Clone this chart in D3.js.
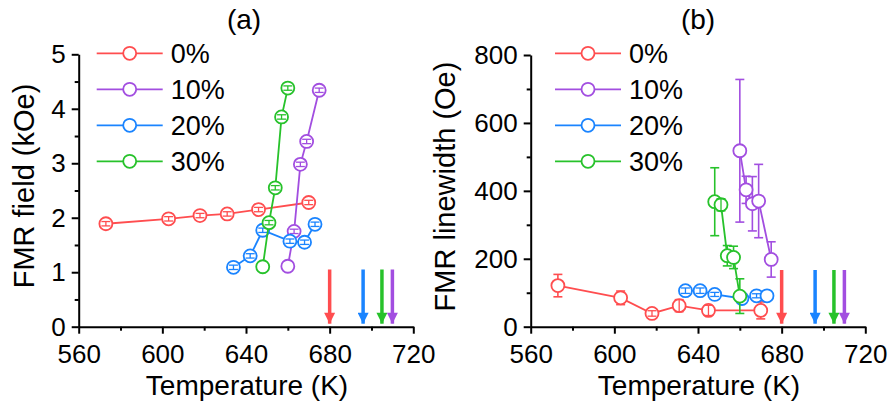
<!DOCTYPE html>
<html>
<head>
<meta charset="utf-8">
<script src="https://cdn.jsdelivr.net/npm/d3@7"></script>
<style>
  body { margin: 0; background: #fff; }
  svg text { font-family: "Liberation Sans", Arial, sans-serif; fill: #000; }
</style>
</head>
<body>
<div id="chart"></div>
<script>
// series labels and Curie temperatures (arrows)
var seriesNames = ["0%", "10%", "20%", "30%"];
var seriesColors = ["#ff4d4f", "#a24ee0", "#1a84ff", "#27c22b"];
var curieT = [680, 710, 696, 705];

// (a) FMR field (kOe)
var fieldT0 = [573, 603, 618, 631, 646, 670];
var fieldV0 = [1.89, 1.98, 2.04, 2.07, 2.15, 2.28];
var fieldE0 = [0.04, 0.04, 0.04, 0.04, 0.04, 0.04];
var fieldT10 = [660, 663, 666, 669, 675];
var fieldV10 = [1.11, 1.75, 2.98, 3.40, 4.34];
var fieldE10 = [0, 0.04, 0.04, 0.04, 0.04];
var fieldT20 = [634, 642, 648, 661, 668, 673];
var fieldV20 = [1.09, 1.30, 1.77, 1.57, 1.55, 1.88];
var fieldE20 = [0.04, 0.04, 0.04, 0.04, 0.04, 0.04];
var fieldT30 = [648, 651, 654, 657, 660];
var fieldV30 = [1.10, 1.91, 2.55, 3.85, 4.38];
var fieldE30 = [0, 0.04, 0.04, 0.04, 0.04];

// (b) FMR linewidth (Oe)
var lwT0 = [573, 603, 618, 631, 645, 670];
var lwV0 = [121, 85, 39, 62, 48, 48];
var lwE0 = [33, 20, 8, 18, 15, 25];
var lwT10 = [660, 663, 666, 669, 675];
var lwV10 = [518, 403, 362, 370, 198];
var lwE10 = [210, 40, 80, 108, 52];
var lwT20 = [634, 641, 648, 661, 668, 673];
var lwV20 = [106, 106, 95, 83, 91, 91];
var lwE20 = [8, 8, 6, 4, 6, 0];
var lwT30 = [648, 651, 654, 657, 660];
var lwV30 = [368, 359, 209, 204, 90];
var lwE30 = [100, 18, 30, 33, 51];

var xTicks = [560, 600, 640, 680, 720];
var xMinor = [580, 620, 660, 700];

function zipSeries(ts, vs, es) {
  return ts.map(function(t, i) { return {t: t, v: vs[i], e: es[i]}; });
}

var panels = [
  {
    title: "(a)", ylabel: "FMR field (kOe)",
    left: 78.7, right: 413.3, top: 54.3,
    yDomain: [0, 5], yTicks: [0, 1, 2, 3, 4, 5], yMinor: [0.5, 1.5, 2.5, 3.5, 4.5],
    arrowTop: 1.05, ylabelX: 34, ylabelY: 186, titleX: 244, legendX: 96.7,
    series: [zipSeries(fieldT0, fieldV0, fieldE0), zipSeries(fieldT10, fieldV10, fieldE10),
             zipSeries(fieldT20, fieldV20, fieldE20), zipSeries(fieldT30, fieldV30, fieldE30)]
  },
  {
    title: "(b)", ylabel: "FMR linewidth (Oe)",
    left: 530.7, right: 865.3, top: 55,
    yDomain: [0, 800], yTicks: [0, 200, 400, 600, 800], yMinor: [100, 300, 500, 700],
    arrowTop: 167, ylabelX: 455, ylabelY: 186.5, titleX: 698, legendX: 555,
    series: [zipSeries(lwT0, lwV0, lwE0), zipSeries(lwT10, lwV10, lwE10),
             zipSeries(lwT20, lwV20, lwE20), zipSeries(lwT30, lwV30, lwE30)]
  }
];

var W = 893, H = 406, bottom = 326.7;
var R = 6.5;

var svg = d3.select("#chart").append("svg")
    .attr("width", W)
    .attr("height", H);

svg.append("defs").selectAll("marker")
  .data(seriesColors)
  .enter().append("marker")
    .attr("id", function(d, i) { return "head" + i; })
    .attr("viewBox", "0 0 10 10")
    .attr("refX", 10).attr("refY", 5)
    .attr("markerUnits", "userSpaceOnUse")
    .attr("markerWidth", 12).attr("markerHeight", 11)
    .attr("orient", "auto")
  .append("path")
    .attr("d", "M0,0 L10,5 L0,10 Z")
    .attr("fill", function(d) { return d; });

panels.forEach(function(p) {
  var x = d3.scaleLinear().domain([560, 720]).range([p.left, p.right]);
  var y = d3.scaleLinear().domain(p.yDomain).range([bottom, p.top]);
  var g = svg.append("g");

  // title
  g.append("text")
    .attr("x", p.titleX)
    .attr("y", 29)
    .attr("text-anchor", "middle")
    .style("font-size", "28px")
    .text(p.title);

  // arrows at Curie temperature
  curieT.forEach(function(tc, i) {
    g.append("line")
      .attr("x1", x(tc)).attr("x2", x(tc))
      .attr("y1", y(p.arrowTop)).attr("y2", bottom - 3)
      .attr("stroke", seriesColors[i])
      .attr("stroke-width", 3.5)
      .attr("marker-end", "url(#head" + i + ")");
  });

  // series
  p.series.forEach(function(data, si) {
    var col = seriesColors[si];
    var line = d3.line()
        .x(function(d) { return x(d.t); })
        .y(function(d) { return y(d.v); });
    g.append("path")
      .datum(data)
      .attr("d", line)
      .attr("fill", "none")
      .attr("stroke", col)
      .attr("stroke-width", 1.8);

    function errBar(sel) {
      sel.each(function(d) {
        var s = d3.select(this);
        var cx = x(d.t), y1 = y(d.v + d.e), y2 = y(d.v - d.e);
        s.append("line").attr("x1", cx).attr("x2", cx).attr("y1", y1).attr("y2", y2);
        s.append("line").attr("x1", cx - 4.5).attr("x2", cx + 4.5).attr("y1", y1).attr("y2", y1);
        s.append("line").attr("x1", cx - 4.5).attr("x2", cx + 4.5).attr("y1", y2).attr("y2", y2);
      });
    }
    var bigErr = data.filter(function(d) { return d.e > 0 && (y(0) - y(d.e)) >= R; });
    var smallErr = data.filter(function(d) { return d.e > 0 && (y(0) - y(d.e)) < R; });

    g.append("g").attr("stroke", col).attr("stroke-width", 1.6)
      .selectAll("g").data(bigErr).enter().append("g").call(errBar);

    g.selectAll(null)
      .data(data)
      .enter().append("circle")
      .attr("cx", function(d) { return x(d.t); })
      .attr("cy", function(d) { return y(d.v); })
      .attr("r", R)
      .attr("fill", "#fff")
      .attr("stroke", col)
      .attr("stroke-width", 1.8);

    g.append("g").attr("stroke", col).attr("stroke-width", 1.3)
      .selectAll("g").data(smallErr).enter().append("g").call(errBar);
  });

  // axes
  g.append("g")
    .attr("transform", "translate(0," + bottom + ")")
    .call(d3.axisBottom(x).tickValues(xTicks).tickSize(7).tickSizeOuter(0))
    .selectAll(".tick text")
      .attr("y", 36).attr("dy", 0);
  g.append("g")
    .attr("transform", "translate(0," + bottom + ")")
    .call(d3.axisBottom(x).tickValues(xMinor).tickSize(4).tickSizeOuter(0).tickFormat(""))
    .select(".domain").remove();
  g.append("g")
    .attr("transform", "translate(" + p.left + ",0)")
    .call(d3.axisLeft(y).tickValues(p.yTicks).tickSize(7).tickSizeOuter(0)
      .tickPadding(6).tickFormat(d3.format("d")));
  g.append("g")
    .attr("transform", "translate(" + p.left + ",0)")
    .call(d3.axisLeft(y).tickValues(p.yMinor).tickSize(4).tickSizeOuter(0).tickFormat(""))
    .select(".domain").remove();

  g.selectAll(".domain").attr("stroke", "#000").attr("stroke-width", 2);
  g.selectAll(".tick line").attr("stroke", "#000").attr("stroke-width", 2);
  g.selectAll(".tick text")
    .style("font-size", "26px")
    .style("font-family", "'Liberation Sans', Arial, sans-serif");

  // axis titles
  g.append("text")
    .attr("x", (p.left + p.right) / 2 + 1)
    .attr("y", 395)
    .attr("text-anchor", "middle")
    .style("font-size", "28px")
    .text("Temperature (K)");
  g.append("text")
    .attr("transform", "translate(" + p.ylabelX + "," + p.ylabelY + ") rotate(-90)")
    .attr("text-anchor", "middle")
    .style("font-size", "29px")
    .text(p.ylabel);

  // legend
  seriesNames.forEach(function(name, i) {
    var ly = 53.3 + i * 36;
    g.append("line")
      .attr("x1", p.legendX).attr("x2", p.legendX + 66)
      .attr("y1", ly).attr("y2", ly)
      .attr("stroke", seriesColors[i]).attr("stroke-width", 1.8);
    g.append("circle")
      .attr("cx", p.legendX + 33).attr("cy", ly).attr("r", R)
      .attr("fill", "#fff").attr("stroke", seriesColors[i]).attr("stroke-width", 1.8);
    g.append("text")
      .attr("x", p.legendX + 74).attr("y", ly + 10)
      .style("font-size", "27px")
      .text(name);
  });
});
</script>
</body>
</html>
